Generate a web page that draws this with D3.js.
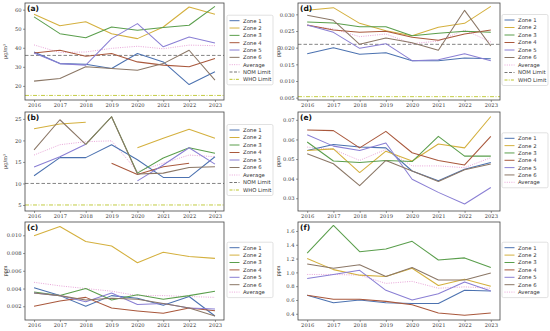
<!DOCTYPE html>
<html><head><meta charset="utf-8">
<script src="https://cdn.jsdelivr.net/npm/d3@7"></script>
<style>body{margin:0;background:#fff}svg{display:block}</style>
</head><body>
<svg id="c" width="550" height="331"></svg>
<script>
const years = [2016, 2017, 2018, 2019, 2020, 2021, 2022, 2023];
const zoneNames = ["Zone 1", "Zone 2", "Zone 3", "Zone 4", "Zone 5", "Zone 6", "Average"];
const zoneColors = ["#4c72b0", "#d4b03e", "#5a9e4c", "#a9583c", "#8a7fd4", "#8b7766", "#e9a6d9"];

// (a) PM10 µg/m³
const pm10 = [
  [37.8, 31.7, 31.4, 29.1, 37.0, 32.6, 20.7, 27.4],
  [57.6, 51.6, 53.7, 47.4, 44.8, 50.9, 61.4, 57.6],
  [56.2, 47.4, 45.3, 50.9, 49.2, 50.6, 51.8, 61.7],
  [37.3, 38.7, 35.6, 37.0, 32.6, 30.9, 30.0, 34.4],
  [37.3, 31.7, 30.9, 44.8, 52.7, 40.5, 45.7, 42.5],
  [22.5, 23.9, 30.0, 29.1, 28.2, 31.7, 38.7, 23.0],
  [41.5, 37.5, 37.8, 39.7, 40.8, 39.5, 41.4, 41.1]
];
// (b) PM2.5 µg/m³
const pm25 = [
  [11.8, 16.0, 16.0, 19.0, 15.5, 11.4, 11.4, 16.2],
  [22.7, 23.8, 24.2, null, 18.3, 20.5, 22.6, 20.5],
  [null, null, 19.1, 25.5, 12.4, 15.9, 18.3, 17.0],
  [null, null, null, 14.7, 12.1, 13.9, 14.7, null],
  [13.8, 16.2, 19.1, null, 10.6, 14.3, 18.3, 14.5],
  [17.8, 24.8, 19.1, 25.5, 12.2, 12.4, 13.7, 13.9],
  [16.6, 19.0, 19.7, 19.9, 12.8, 14.7, 16.6, 16.2]
];
// (c) SO2 ppm
const so2 = [
  [0.0041, 0.0032, 0.0020, 0.0032, 0.0029, 0.0021, 0.0031, 0.0009],
  [0.00996, 0.0110, 0.0093, 0.0088, 0.0069, 0.0081, 0.0076, 0.0074],
  [0.0036, 0.0032, 0.0040, 0.0027, 0.0033, 0.0028, 0.0032, 0.0037],
  [0.0020, 0.0026, 0.0030, 0.0018, 0.00147, 0.0012, 0.0018, 0.0015],
  [0.0035, 0.0032, 0.0025, 0.0035, 0.0022, 0.0023, 0.0018, 0.0017],
  [0.0035, 0.0032, 0.0027, 0.0029, 0.0028, 0.0023, 0.0018, 0.0009],
  [0.0047, 0.0043, 0.0040, 0.0037, 0.0032, 0.0032, 0.0031, 0.0030]
];
// (d) NO2 ppm
const no2 = [
  [0.0182, 0.0200, 0.0180, 0.0185, 0.0161, 0.0161, 0.0169, 0.0167],
  [0.0312, 0.0320, 0.0273, 0.0251, 0.0236, 0.0261, 0.0273, 0.0324],
  [0.0277, 0.0274, 0.0263, 0.0263, 0.0236, 0.0243, 0.0249, 0.0246],
  [0.0268, 0.0253, 0.0246, 0.0249, 0.0231, 0.0222, 0.0241, 0.0253],
  [0.0268, 0.0246, 0.0198, 0.0212, 0.0161, 0.0164, 0.0182, 0.0161],
  [0.0297, 0.0282, 0.0210, 0.0229, 0.0215, 0.0192, 0.0312, 0.0205],
  [0.0266, 0.0256, 0.0233, 0.0241, 0.0212, 0.0220, 0.0253, 0.0217]
];
// (e) O3 ppm
const o3 = [
  [0.0544, 0.0574, 0.0561, 0.0557, 0.0439, 0.0389, 0.0448, 0.0482],
  [0.0544, 0.0552, 0.0431, 0.0540, 0.0490, 0.0577, 0.0557, 0.0717],
  [0.0587, 0.0490, 0.0482, 0.0493, 0.0487, 0.0616, 0.0515, 0.0515],
  [0.0648, 0.0645, 0.0557, 0.0641, 0.0532, 0.0493, 0.0470, 0.0616],
  [0.0624, 0.0566, 0.0544, 0.0582, 0.0397, 0.0330, 0.0271, 0.0355],
  [0.0527, 0.0476, 0.0364, 0.0493, 0.0439, 0.0386, 0.0445, 0.0475],
  [0.0561, 0.0549, 0.0493, 0.0549, 0.0465, 0.0465, 0.0456, 0.0507]
];
// (f) CO ppm
const co = [
  [0.67, 0.56, 0.60, 0.56, 0.55, 0.55, 0.74, 0.73],
  [1.20, 1.04, 0.96, 0.94, 1.06, 0.81, 0.90, 0.80],
  [1.28, 1.68, 1.30, 1.34, 1.45, 1.18, 1.21, 1.07],
  [0.67, 0.61, 0.61, 0.58, 0.53, 0.41, 0.38, 0.41],
  [0.91, 0.97, 1.03, 0.74, 0.60, 0.69, 0.86, 0.73],
  [1.12, 1.06, 1.11, 0.94, 1.07, 0.89, 0.89, 0.99],
  [0.97, 0.97, 0.96, 0.84, 0.87, 0.77, 0.79, 0.77]
];
const nomLimits = {a: 36, b: 10, d: 0.021};
const whoLimits = {a: 15, b: 5, d: 0.0053};

const panels = [
  {id: "a", data: pm10, unit: "µg/m³", x0: 25, x1: 224, y0: 3, y1: 100, dom: [12.6, 63.5], ticks: [20, 30, 40, 50, 60], fmt: d3.format("d"), lg: [227, 273, 20.7, 7.33]},
  {id: "b", data: pm25, unit: "µg/m³", x0: 25, x1: 224, y0: 112, y1: 211, dom: [3.6, 26.6], ticks: [5, 10, 15, 20, 25], fmt: d3.format("d"), lg: [227, 273, 130, 7.5]},
  {id: "c", data: so2, unit: "ppm", x0: 25, x1: 224, y0: 222, y1: 320, dom: [0.00045, 0.0115], ticks: [0.002, 0.004, 0.006, 0.008, 0.010], fmt: d3.format(".3f"), lg: [227, 273, 247.7, 7.4]},
  {id: "d", data: no2, unit: "ppm", x0: 298, x1: 500, y0: 3, y1: 100, dom: [0.0043, 0.0334], ticks: [0.005, 0.010, 0.015, 0.020, 0.025, 0.030], fmt: d3.format(".3f"), lg: [502, 548, 20, 7.5]},
  {id: "e", data: o3, unit: "ppm", x0: 298, x1: 500, y0: 112, y1: 211, dom: [0.0235, 0.074], ticks: [0.03, 0.04, 0.05, 0.06, 0.07], fmt: d3.format(".2f"), lg: [502, 548, 138.3, 7.33]},
  {id: "f", data: co, unit: "ppm", x0: 298, x1: 500, y0: 222, y1: 320, dom: [0.31, 1.73], ticks: [0.4, 0.6, 0.8, 1.0, 1.2, 1.4, 1.6], fmt: d3.format(".1f"), lg: [502, 548, 247.7, 7.4]}
];

const svg = d3.select("#c");
const serif = "'DejaVu Serif', 'Liberation Serif', serif";
const sans = "'DejaVu Sans', sans-serif";

panels.forEach(p => {
  const g = svg.append("g");
  const x = d3.scaleLinear().domain([2015.65, 2023.35]).range([p.x0, p.x1]);
  const y = d3.scaleLinear().domain(p.dom).range([p.y1, p.y0]);

  // axes
  const xa = g.append("g").attr("transform", `translate(0,${p.y1})`)
    .call(d3.axisBottom(x).tickValues(years).tickFormat(d3.format("d")).tickSize(2).tickPadding(1.5));
  const ya = g.append("g").attr("transform", `translate(${p.x0},0)`)
    .call(d3.axisLeft(y).tickValues(p.ticks).tickFormat(p.fmt).tickSize(2).tickPadding(1.5));
  [xa, ya].forEach(a => {
    a.select(".domain").remove();
    a.selectAll("text").attr("font-family", serif).attr("font-size", 5.2).attr("fill", "#333");
    a.selectAll("line").attr("stroke", "#555").attr("stroke-width", 0.6);
  });

  // y label
  const ly = (p.y0 + p.y1) / 2;
  const lx = p.x0 === 25 ? 7 : 280;
  g.append("text").attr("transform", `translate(${lx},${ly}) rotate(-90)`)
    .attr("text-anchor", "middle").attr("font-family", serif).attr("font-size", 5).attr("fill", "#333")
    .text(p.unit);

  // limit lines
  if (nomLimits[p.id] !== undefined) {
    g.append("line").attr("x1", x(2015.65)).attr("x2", x(2023.35))
      .attr("y1", y(nomLimits[p.id])).attr("y2", y(nomLimits[p.id]))
      .attr("stroke", "#777").attr("stroke-width", 0.9).attr("stroke-dasharray", "3.5,2");
    g.append("line").attr("x1", x(2015.65)).attr("x2", x(2023.35))
      .attr("y1", y(whoLimits[p.id])).attr("y2", y(whoLimits[p.id]))
      .attr("stroke", "#bcc62e").attr("stroke-width", 0.9).attr("stroke-dasharray", "4,1.5,1,1.5");
  }

  const line = d3.line().defined(d => d[1] !== null).x(d => x(d[0])).y(d => y(d[1]));
  // average first (dotted), then zones
  const order = [6, 0, 1, 2, 3, 4, 5];
  order.forEach(i => {
    const pts = years.map((yr, k) => [yr, p.data[i][k]]);
    g.append("path").datum(pts).attr("d", line).attr("fill", "none")
      .attr("stroke", zoneColors[i]).attr("stroke-width", i === 6 ? 1 : 1.05)
      .attr("stroke-dasharray", i === 6 ? "1,1.3" : null)
      .attr("stroke-linejoin", "round");
  });

  // frame
  g.append("rect").attr("x", p.x0).attr("y", p.y0).attr("width", p.x1 - p.x0).attr("height", p.y1 - p.y0)
    .attr("fill", "none").attr("stroke", "#444").attr("stroke-width", 0.8);

  // panel label
  g.append("text").attr("x", p.x0 + 2).attr("y", p.y0 + 8)
    .attr("font-family", sans).attr("font-weight", "bold").attr("font-size", 7.5).attr("fill", "#111")
    .text(`(${p.id})`);

  // legend
  const names = zoneNames.slice();
  const cols = zoneColors.slice();
  const dashes = [null, null, null, null, null, null, "1,1.3"];
  if (nomLimits[p.id] !== undefined) {
    names.push("NOM Limit", "WHO Limit");
    cols.push("#777", "#bcc62e");
    dashes.push("3,1.5", "3,1.2,1,1.2");
  }
  const [lx0, lx1, ly0, step] = p.lg;
  const lg = g.append("g");
  lg.append("rect").attr("x", lx0).attr("y", ly0 - 5.5).attr("width", lx1 - lx0)
    .attr("height", step * (names.length - 1) + 11).attr("rx", 1.5)
    .attr("fill", "#fff").attr("stroke", "#ccc").attr("stroke-width", 0.6);
  names.forEach((n, i) => {
    const yy = ly0 + i * step;
    lg.append("line").attr("x1", lx0 + 2.5).attr("x2", lx0 + 12.5).attr("y1", yy).attr("y2", yy)
      .attr("stroke", cols[i]).attr("stroke-width", 1).attr("stroke-dasharray", dashes[i]);
    lg.append("text").attr("x", lx0 + 16).attr("y", yy + 1.9)
      .attr("font-family", sans).attr("font-size", 5.3).attr("fill", "#333").text(n);
  });
});
</script>
</body></html>
